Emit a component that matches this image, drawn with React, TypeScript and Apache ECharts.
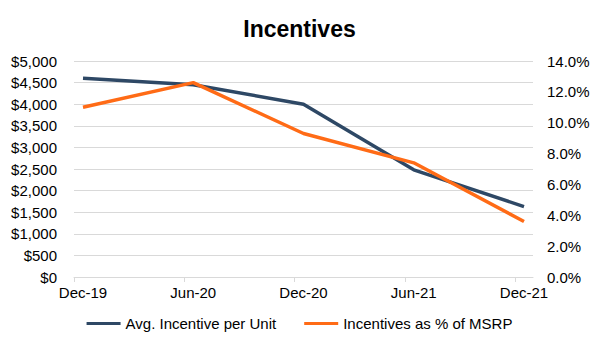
import React, { useEffect, useRef } from "react";
import * as echarts from "echarts";

const categories = ["Dec-19", "Jun-20", "Dec-20", "Jun-21", "Dec-21"];
const avgIncentive = [4600, 4450, 4000, 2480, 1630];
const pctOfMsrp = [11.0, 12.6, 9.3, 7.4, 3.6];
const leftTicks = { min: 0, max: 5000, interval: 500 };
const rightTicks = { min: 0, max: 14, interval: 2 };
const seriesNames = ["Avg. Incentive per Unit", "Incentives as % of MSRP"];

const FONT = "'Liberation Sans', Arial, sans-serif";
const NAVY = "#2E4865";
const ORANGE = "#FF6B16";
const OFFSET = 0.0816;

export default function App() {
  const ref = useRef<HTMLDivElement>(null);
  useEffect(() => {
    if (!ref.current) return;
    const chart = echarts.init(ref.current, undefined, { renderer: "svg" });
    const idx = categories.map((_, i) => i);
    chart.setOption({
      animation: false,
      backgroundColor: "#ffffff",
      textStyle: { fontFamily: FONT },
      title: {
        text: "Incentives",
        left: "center",
        top: 12,
        textStyle: { fontFamily: FONT, fontSize: 23, fontWeight: "bold", color: "#000" },
      },
      legend: {
        bottom: 13,
        left: "center",
        itemWidth: 34,
        itemHeight: 3,
        itemGap: 28,
        icon: "rect",
        textStyle: { fontFamily: FONT, fontSize: 15, color: "#000" },
        data: seriesNames,
      },
      grid: { left: 74, right: 66, top: 61, bottom: 72, containLabel: false },
      xAxis: {
        type: "value",
        min: -OFFSET,
        max: categories.length - 1 + OFFSET,
        splitLine: { show: false },
        axisLine: { show: true, lineStyle: { color: "#d9d9d9", width: 1 } },
        axisTick: {
          show: true,
          length: 5,
          customValues: idx.map((i) => i - OFFSET),
          lineStyle: { color: "#d9d9d9" },
        },
        axisLabel: {
          customValues: idx,
          formatter: (v: number) => categories[Math.round(v)] ?? "",
          fontFamily: FONT,
          fontSize: 15,
          color: "#000",
          margin: 8,
        },
      },
      yAxis: [
        {
          type: "value",
          ...leftTicks,
          axisLine: { show: false },
          axisTick: { show: false },
          splitLine: { show: true, lineStyle: { color: "#d9d9d9", width: 1 } },
          axisLabel: {
            formatter: (v: number) => "$" + v.toLocaleString("en-US"),
            fontFamily: FONT,
            fontSize: 15,
            color: "#000",
            margin: 17,
          },
        },
        {
          type: "value",
          ...rightTicks,
          axisLine: { show: false },
          axisTick: { show: false },
          splitLine: { show: false },
          axisLabel: {
            formatter: (v: number) => v.toFixed(1) + "%",
            fontFamily: FONT,
            fontSize: 15,
            color: "#000",
            margin: 14,
          },
        },
      ],
      series: [
        {
          name: seriesNames[0],
          type: "line",
          yAxisIndex: 0,
          data: avgIncentive.map((v, i) => [i, v]),
          showSymbol: false,
          symbol: "none",
          lineStyle: { color: NAVY, width: 3.5 },
          itemStyle: { color: NAVY },
        },
        {
          name: seriesNames[1],
          type: "line",
          yAxisIndex: 1,
          data: pctOfMsrp.map((v, i) => [i, v]),
          showSymbol: false,
          symbol: "none",
          lineStyle: { color: ORANGE, width: 3.5 },
          itemStyle: { color: ORANGE },
        },
      ],
    });
    return () => chart.dispose();
  }, []);
  return <div ref={ref} style={{ width: 599, height: 349, position: "absolute", left: 0, top: 0 }} />;
}
